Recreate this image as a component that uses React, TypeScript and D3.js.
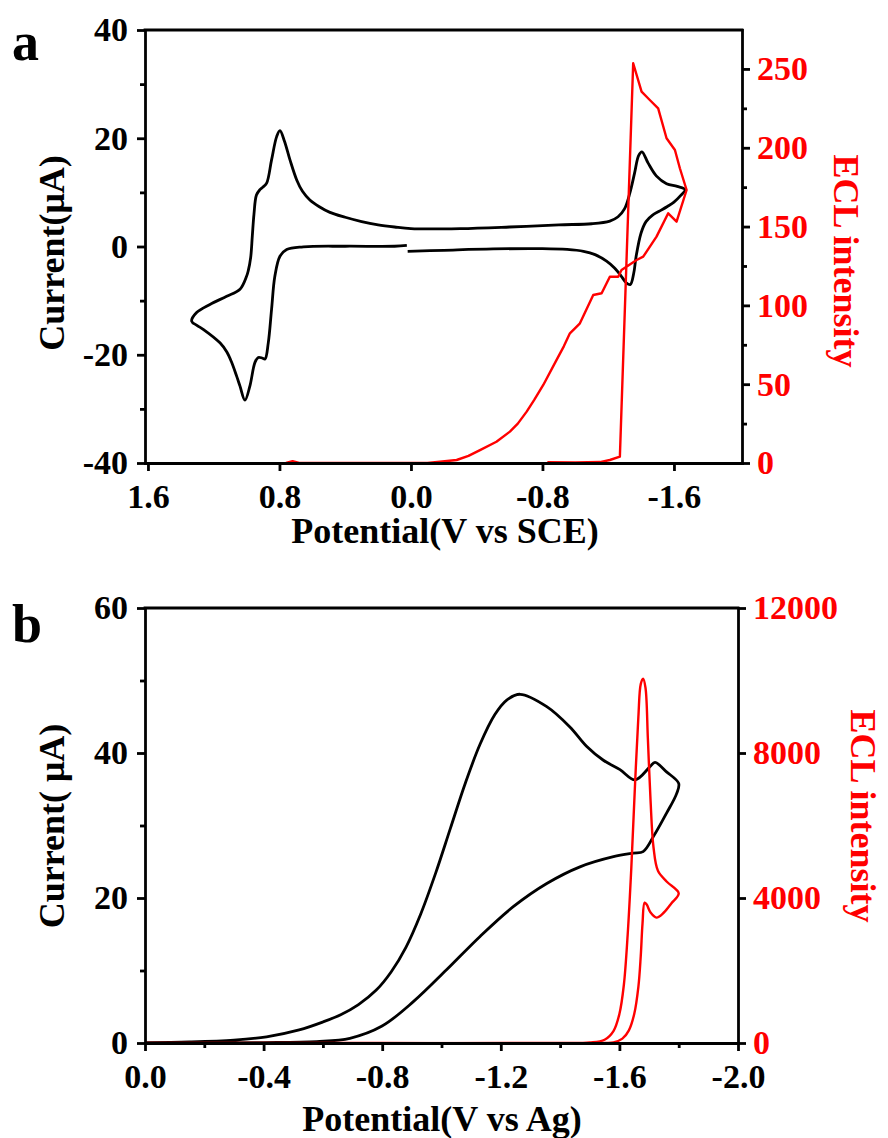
import React, { useEffect, useRef } from "react";
import * as d3 from "d3";

type Pt = [number, number];

// panel a: CV, potential (V vs SCE) -> current (uA)
const cvA: Pt[] = [
  [0.02, -0.9], [-0.2, -0.7], [-0.5, -0.45], [-0.8, -0.4], [-0.95, -0.55], [-1.05, -0.9],
  [-1.12, -1.5], [-1.19, -2.7], [-1.24, -4.0], [-1.28, -5.5], [-1.31, -6.7], [-1.335, -7.0],
  [-1.355, -5.0], [-1.37, -1.8], [-1.4, 2.5], [-1.43, 4.6], [-1.47, 5.8], [-1.51, 6.5],
  [-1.56, 7.4], [-1.6, 8.2], [-1.64, 9.4], [-1.668, 10.5],
  [-1.62, 11.1], [-1.555, 11.6], [-1.494, 13], [-1.443, 15.4], [-1.405, 17.5], [-1.385, 16.8],
  [-1.36, 13.5], [-1.332, 9.9], [-1.3, 7.0], [-1.26, 5.5], [-1.21, 4.7], [-1.1, 4.2],
  [-0.9, 4.0], [-0.6, 3.6], [-0.3, 3.3], [0.0, 3.3], [0.1, 3.6], [0.2, 4.0], [0.3, 4.6],
  [0.4, 5.4], [0.493, 6.3], [0.56, 7.4], [0.615, 8.6], [0.66, 10.2], [0.695, 12.3],
  [0.736, 16], [0.77, 19.5], [0.797, 21.4],
  [0.817, 20.3], [0.848, 16], [0.878, 11.7], [0.9, 11.0], [0.919, 10.5], [0.94, 9.5],
  [0.955, 6], [0.965, 2], [0.975, -2], [0.99, -4.5], [1.0, -5.5], [1.04, -7.9], [1.121, -9.2],
  [1.223, -10.7], [1.304, -12.2], [1.334, -13.8],
  [1.3, -14.6], [1.264, -15.3], [1.162, -17.8], [1.12, -19.5], [1.091, -21.4], [1.06, -24],
  [1.04, -25.8], [1.01, -28.4], [0.98, -25.8], [0.949, -21.4], [0.929, -20.5], [0.905, -20.6],
  [0.888, -20.8], [0.868, -17.8], [0.848, -11.6], [0.828, -5.5], [0.797, -1.8], [0.756, -0.55],
  [0.655, -0.06], [0.4, 0.05], [0.1, 0.05], [0.025, 0.2],
];

// panel a: ECL intensity (right axis)
const eclA: Pt[] = [
  [0.76, 0], [0.72, 1.2], [0.68, 0], [0.3, 0], [-0.1, 0], [-0.176, 0.8], [-0.278, 1.9],
  [-0.35, 4.5], [-0.42, 8.2], [-0.52, 13.5], [-0.602, 19.9], [-0.65, 25], [-0.704, 32.6],
  [-0.75, 40], [-0.805, 49.5], [-0.886, 65.4], [-0.93, 74], [-0.967, 82.3], [-1.028, 88.6],
  [-1.109, 106.6], [-1.16, 107.7], [-1.21, 118.2], [-1.261, 118.2], [-1.281, 122.5],
  [-1.373, 128.8], [-1.413, 130.9], [-1.494, 143.6], [-1.565, 158.4], [-1.616, 153.1],
  [-1.677, 173.2], [-1.636, 187], [-1.606, 198.6], [-1.555, 206], [-1.504, 225],
  [-1.453, 230.3], [-1.403, 235.6], [-1.352, 253.6], [-1.271, 4], [-1.21, 1.9],
  [-1.15, 0.6], [-1.0, 0.3], [-0.83, 0.5],
];

// panel b: CV, potential (V vs Ag) -> current (uA)
const cvB: Pt[] = [
  [0, 0.05], [-0.15, 0.15], [-0.3, 0.4], [-0.41, 0.85], [-0.52, 1.8], [-0.6, 2.9],
  [-0.66, 3.9], [-0.72, 5.3], [-0.78, 7.3], [-0.83, 9.8], [-0.88, 13.2], [-0.93, 17.8],
  [-0.98, 23.4], [-1.03, 29.6], [-1.08, 35.8], [-1.13, 41.2], [-1.18, 45.3], [-1.22, 47.3],
  [-1.265, 48.1], [-1.355, 46.4],
  [-1.433, 43.6], [-1.49, 40.9], [-1.546, 39.0], [-1.602, 37.7], [-1.653, 36.3],
  [-1.703, 38.1], [-1.72, 38.7], [-1.759, 37.4], [-1.8, 35.8],
  [-1.793, 34.4], [-1.759, 31.7], [-1.715, 28.5], [-1.68, 26.4], [-1.647, 26.2],
  [-1.58, 25.7], [-1.467, 24.3], [-1.355, 22.0], [-1.242, 18.8], [-1.13, 14.7],
  [-1.017, 10.1], [-0.905, 5.7], [-0.798, 2.3], [-0.691, 0.65], [-0.579, 0.2], [-0.4, 0.05],
  [0, 0],
];

// panel b: ECL intensity (right axis)
const eclB: Pt[] = [
  [0, 0], [-0.7, 0], [-1.4, 0], [-1.5, 15], [-1.55, 90], [-1.58, 330], [-1.6, 800],
  [-1.615, 1600], [-1.628, 3000], [-1.64, 4800], [-1.652, 7000], [-1.664, 9000],
  [-1.672, 9900], [-1.68, 10050], [-1.688, 9800], [-1.696, 8400], [-1.705, 6700],
  [-1.715, 5400], [-1.73, 4750], [-1.76, 4450], [-1.8, 4130],
  [-1.775, 3850], [-1.75, 3600], [-1.725, 3460], [-1.705, 3600], [-1.692, 3820],
  [-1.685, 3870], [-1.678, 3300], [-1.672, 2400], [-1.664, 1550], [-1.65, 800],
  [-1.632, 350], [-1.61, 120], [-1.58, 15], [-1.55, 0], [-0.8, 0], [0, 0],
];

// tick values
const xTicksA = [1.6, 0.8, 0, -0.8, -1.6];
const yTicksA = [-40, -20, 0, 20, 40];
const yMinorA = [-30, -10, 10, 30];
const rTicksA = [0, 50, 100, 150, 200, 250];
const rMinorA = [25, 75, 125, 175, 225];

const xTicksB = [0, -0.4, -0.8, -1.2, -1.6, -2.0];
const xMinorB = [-0.2, -0.6, -1.0, -1.4, -1.8];
const yTicksB = [0, 20, 40, 60];
const yMinorB = [10, 30, 50];
const rTicksB = [0, 4000, 8000, 12000];

const RED = "#ff0000";
const FONT = "'Liberation Serif', 'Times New Roman', serif";

function drawPanel (svg, config) {
  const {
    left, right, top, bottom, xDomain, yDomain, rDomain,
    xTicks, xMinor, yTicks, yMinor, rTicks, rMinor,
    cv, ecl, eclCurve, letter, xTitle, yTitle, rTitle,
    yTitleY, rTitleX, rTitleY, xTitleX, xTitleY, letterY
  } = config

  const x = d3.scaleLinear().domain(xDomain).range([left, right])
  const y = d3.scaleLinear().domain(yDomain).range([bottom, top])
  const r = d3.scaleLinear().domain(rDomain).range([bottom, top])

  const g = svg.append("g")

  const cvLine = d3.line<Pt>()
    .x(d => x(d[0]))
    .y(d => y(d[1]))
    .curve(d3.curveCatmullRom.alpha(0.5))

  const eclLine = d3.line<Pt>()
    .x(d => x(d[0]))
    .y(d => r(d[1]))
    .curve(eclCurve)

  g.append("path")
    .attr("d", cvLine(cv))
    .attr("fill", "none")
    .attr("stroke", "#000")
    .attr("stroke-width", 2.8)
    .attr("stroke-linejoin", "round")

  g.append("path")
    .attr("d", eclLine(ecl))
    .attr("fill", "none")
    .attr("stroke", RED)
    .attr("stroke-width", 2.4)
    .attr("stroke-linejoin", "round")

  const style = (sel, color) => {
    sel.selectAll("path.domain").attr("stroke", "#000").attr("stroke-width", 2.8).attr("stroke-linecap", "square")
    sel.selectAll(".tick line").attr("stroke", "#000").attr("stroke-width", 2.8)
    sel.selectAll(".tick text")
      .attr("fill", color)
      .style("font-family", FONT)
      .style("font-weight", "bold")
      .style("font-size", "34px")
  }

  // top frame
  g.append("line")
    .attr("x1", left).attr("x2", right)
    .attr("y1", top).attr("y2", top)
    .attr("stroke", "#000").attr("stroke-width", 2.8).attr("stroke-linecap", "square")

  // minor ticks
  const minorAxes = [
    { values: yMinor, axis: d3.axisLeft(y), at: `translate(${left},0)` },
    { values: xMinor, axis: d3.axisBottom(x), at: `translate(0,${bottom})` },
    { values: rMinor, axis: d3.axisRight(r), at: `translate(${right},0)` },
  ]
  minorAxes.forEach(m => {
    if (!m.values.length) return
    const a = g.append("g").attr("transform", m.at)
      .call(m.axis.tickValues(m.values).tickSize(5).tickSizeOuter(0).tickFormat(() => ""))
    a.select("path.domain").remove()
    style(a, "#000")
  })

  const intFmt = d => String(d)

  const la = g.append("g").attr("transform", `translate(${left},0)`)
    .call(d3.axisLeft(y).tickValues(yTicks).tickSize(8).tickSizeOuter(0).tickPadding(9).tickFormat(intFmt))
  style(la, "#000")

  const ra = g.append("g").attr("transform", `translate(${right},0)`)
    .call(d3.axisRight(r).tickValues(rTicks).tickSize(8).tickSizeOuter(0).tickPadding(7).tickFormat(intFmt))
  style(ra, RED)

  const ba = g.append("g").attr("transform", `translate(0,${bottom})`)
    .call(d3.axisBottom(x).tickValues(xTicks).tickSize(8).tickSizeOuter(0).tickPadding(13)
      .tickFormat(d => (+d).toFixed(1)))
  style(ba, "#000")

  const title = (txt, tx, ty, rot, color, size) => g.append("text")
    .attr("transform", `translate(${tx},${ty}) rotate(${rot})`)
    .attr("text-anchor", "middle")
    .attr("fill", color)
    .style("font-family", FONT)
    .style("font-weight", "bold")
    .style("font-size", size + "px")
    .text(txt)

  title(xTitle, xTitleX, xTitleY, 0, "#000", 36)
  title(yTitle, 64, yTitleY, -90, "#000", 36)
  title(rTitle, rTitleX, rTitleY, 90, RED, 36)

  g.append("text")
    .attr("x", 12).attr("y", letterY)
    .style("font-family", FONT)
    .style("font-weight", "bold")
    .style("font-size", "54px")
    .text(letter)
}

export default function App () {
  const ref = useRef<SVGSVGElement>(null)

  useEffect(() => {
    document.body.style.margin = "0"
    const svg = d3.select(ref.current)
    svg.selectAll("*").remove()

    drawPanel(svg, {
      left: 145, right: 742, top: 30, bottom: 463,
      xDomain: [1.618, -2.014], yDomain: [-40, 40], rDomain: [0, 274.7],
      xTicks: xTicksA, xMinor: [], yTicks: yTicksA, yMinor: yMinorA,
      rTicks: rTicksA, rMinor: rMinorA,
      cv: cvA, ecl: eclA, eclCurve: d3.curveLinear,
      letter: "a", letterY: 60,
      xTitle: "Potential(V vs SCE)", xTitleX: 445, xTitleY: 543,
      yTitle: "Current(μA)", yTitleY: 253,
      rTitle: "ECL intensity", rTitleX: 834, rTitleY: 261,
    })

    drawPanel(svg, {
      left: 145, right: 738, top: 608, bottom: 1043,
      xDomain: [0, -2.0], yDomain: [0, 60], rDomain: [0, 12000],
      xTicks: xTicksB, xMinor: xMinorB, yTicks: yTicksB, yMinor: yMinorB,
      rTicks: rTicksB, rMinor: [],
      cv: cvB, ecl: eclB, eclCurve: d3.curveCatmullRom.alpha(0.5),
      letter: "b", letterY: 642,
      xTitle: "Potential(V vs Ag)", xTitleX: 442, xTitleY: 1131,
      yTitle: "Current( μA)", yTitleY: 826,
      rTitle: "ECL intensity", rTitleX: 851, rTitleY: 816,
    })
  }, [])

  return (
    <svg ref={ref} width={888} height={1138} style={{ display: "block", background: "#fff" }} />
  )
}
